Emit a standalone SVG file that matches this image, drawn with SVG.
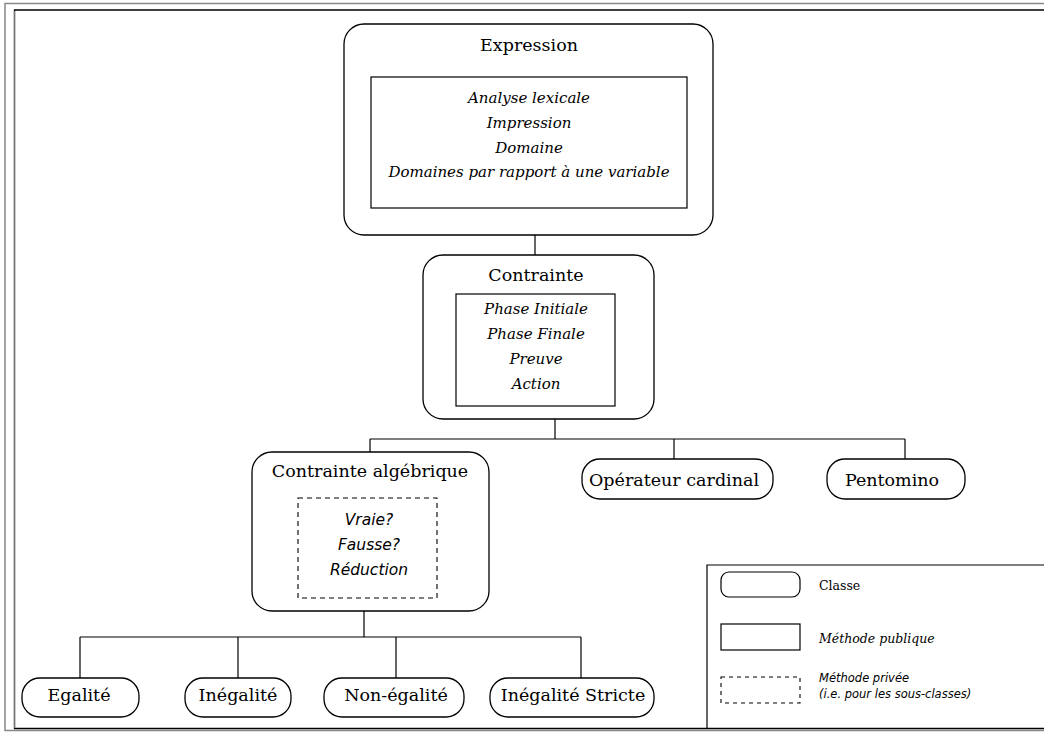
<svg xmlns="http://www.w3.org/2000/svg" width="1044" height="734" viewBox="0 0 1044 734">
<style>
.cls{fill:#fff;stroke:#000;stroke-width:1.3}
.pub{fill:#fff;stroke:#000;stroke-width:1.2}
.priv{fill:none;stroke:#000;stroke-width:1.1;stroke-dasharray:5 4}
.ttl{font-family:"DejaVu Serif",serif;font-size:17.5px;fill:#000;text-anchor:middle}
.mth{font-family:"DejaVu Serif",serif;font-style:italic;font-size:15px;fill:#000;text-anchor:middle}
.prv{font-family:"DejaVu Sans",sans-serif;font-style:italic;font-size:15.5px;fill:#000;text-anchor:middle}
.conn{fill:none;stroke:#000;stroke-width:1.2}
.lg{font-family:"DejaVu Serif",serif;font-size:12.5px;fill:#000}
.lgi{font-family:"DejaVu Serif",serif;font-style:italic;font-size:12.5px;fill:#000}
.lgs{font-family:"DejaVu Sans",sans-serif;font-style:italic;font-size:11.5px;fill:#000}
</style>
<rect width="1044" height="734" fill="#fff"/>
<g id="frame" fill="none">
<path d="M1044,3.5 H5 V730.5 H1044" stroke="#888" stroke-width="1.5"/>
<path d="M1044,10 H14.5 V728.5 H1044" stroke="#000" stroke-width="1.3"/>
<path d="M14.5,11 V728" stroke="#777" stroke-width="1.3"/>
</g>
<g id="connectors">
<path class="conn" d="M535,235 V255"/>
<path class="conn" d="M555,419 V439 M370,439 H905 M370,439 V452 M674,439 V459 M905,439 V459"/>
<path class="conn" d="M364,611 V637 M80,637 H581 M80,637 V678 M238,637 V678 M396,637 V678 M581,637 V678"/>
</g>
<g id="expression">
<rect class="cls" x="344" y="24" width="369" height="211" rx="20"/>
<text class="ttl" x="529" y="51">Expression</text>
<rect class="pub" x="371" y="77" width="316" height="131"/>
<text class="mth" x="529" y="103">Analyse lexicale</text>
<text class="mth" x="529" y="128">Impression</text>
<text class="mth" x="529" y="153">Domaine</text>
<text class="mth" x="529" y="177">Domaines par rapport à une variable</text>
</g>
<g id="contrainte">
<rect class="cls" x="423" y="255" width="231" height="164" rx="20"/>
<text class="ttl" x="536" y="281">Contrainte</text>
<rect class="pub" x="456" y="294" width="159" height="112"/>
<text class="mth" x="536" y="314">Phase Initiale</text>
<text class="mth" x="536" y="339">Phase Finale</text>
<text class="mth" x="536" y="364">Preuve</text>
<text class="mth" x="536" y="389">Action</text>
</g>
<g id="contrainte-algebrique">
<rect class="cls" x="252" y="452" width="237" height="159" rx="20"/>
<text class="ttl" x="370" y="477">Contrainte algébrique</text>
<rect class="priv" x="298" y="498" width="139" height="100"/>
<text class="prv" x="369" y="525">Vraie?</text>
<text class="prv" x="369" y="550">Fausse?</text>
<text class="prv" x="369" y="575">Réduction</text>
</g>
<g id="operateur-cardinal">
<rect class="cls" x="582" y="459" width="191" height="40" rx="18"/>
<text class="ttl" x="674" y="486">Opérateur cardinal</text>
</g>
<g id="pentomino">
<rect class="cls" x="827" y="459" width="138" height="40" rx="18"/>
<text class="ttl" x="892" y="486">Pentomino</text>
</g>
<g id="egalite">
<rect class="cls" x="22" y="678" width="117" height="39" rx="18"/>
<text class="ttl" x="79" y="701">Egalité</text>
</g>
<g id="inegalite">
<rect class="cls" x="185" y="678" width="106" height="39" rx="18"/>
<text class="ttl" x="238" y="701">Inégalité</text>
</g>
<g id="non-egalite">
<rect class="cls" x="324" y="678" width="140" height="39" rx="18"/>
<text class="ttl" x="396" y="701">Non-égalité</text>
</g>
<g id="inegalite-stricte">
<rect class="cls" x="490" y="678" width="164" height="39" rx="18"/>
<text class="ttl" x="573" y="701">Inégalité Stricte</text>
</g>
<g id="legend">
<path d="M1050,565 H707 V729" fill="none" stroke="#000" stroke-width="1.2"/>
<rect class="pub" x="721" y="572" width="79" height="25" rx="8"/>
<text class="lg" x="819" y="590">Classe</text>
<rect class="pub" x="721" y="624" width="79" height="26"/>
<text class="lgi" x="819" y="643">Méthode publique</text>
<rect class="priv" x="721" y="677" width="79" height="26" style="stroke-dasharray:4 4"/>
<text class="lgs" x="819" y="682">Méthode privée</text>
<text class="lgs" x="819" y="698">(i.e. pour les sous-classes)</text>
</g>
</svg>
